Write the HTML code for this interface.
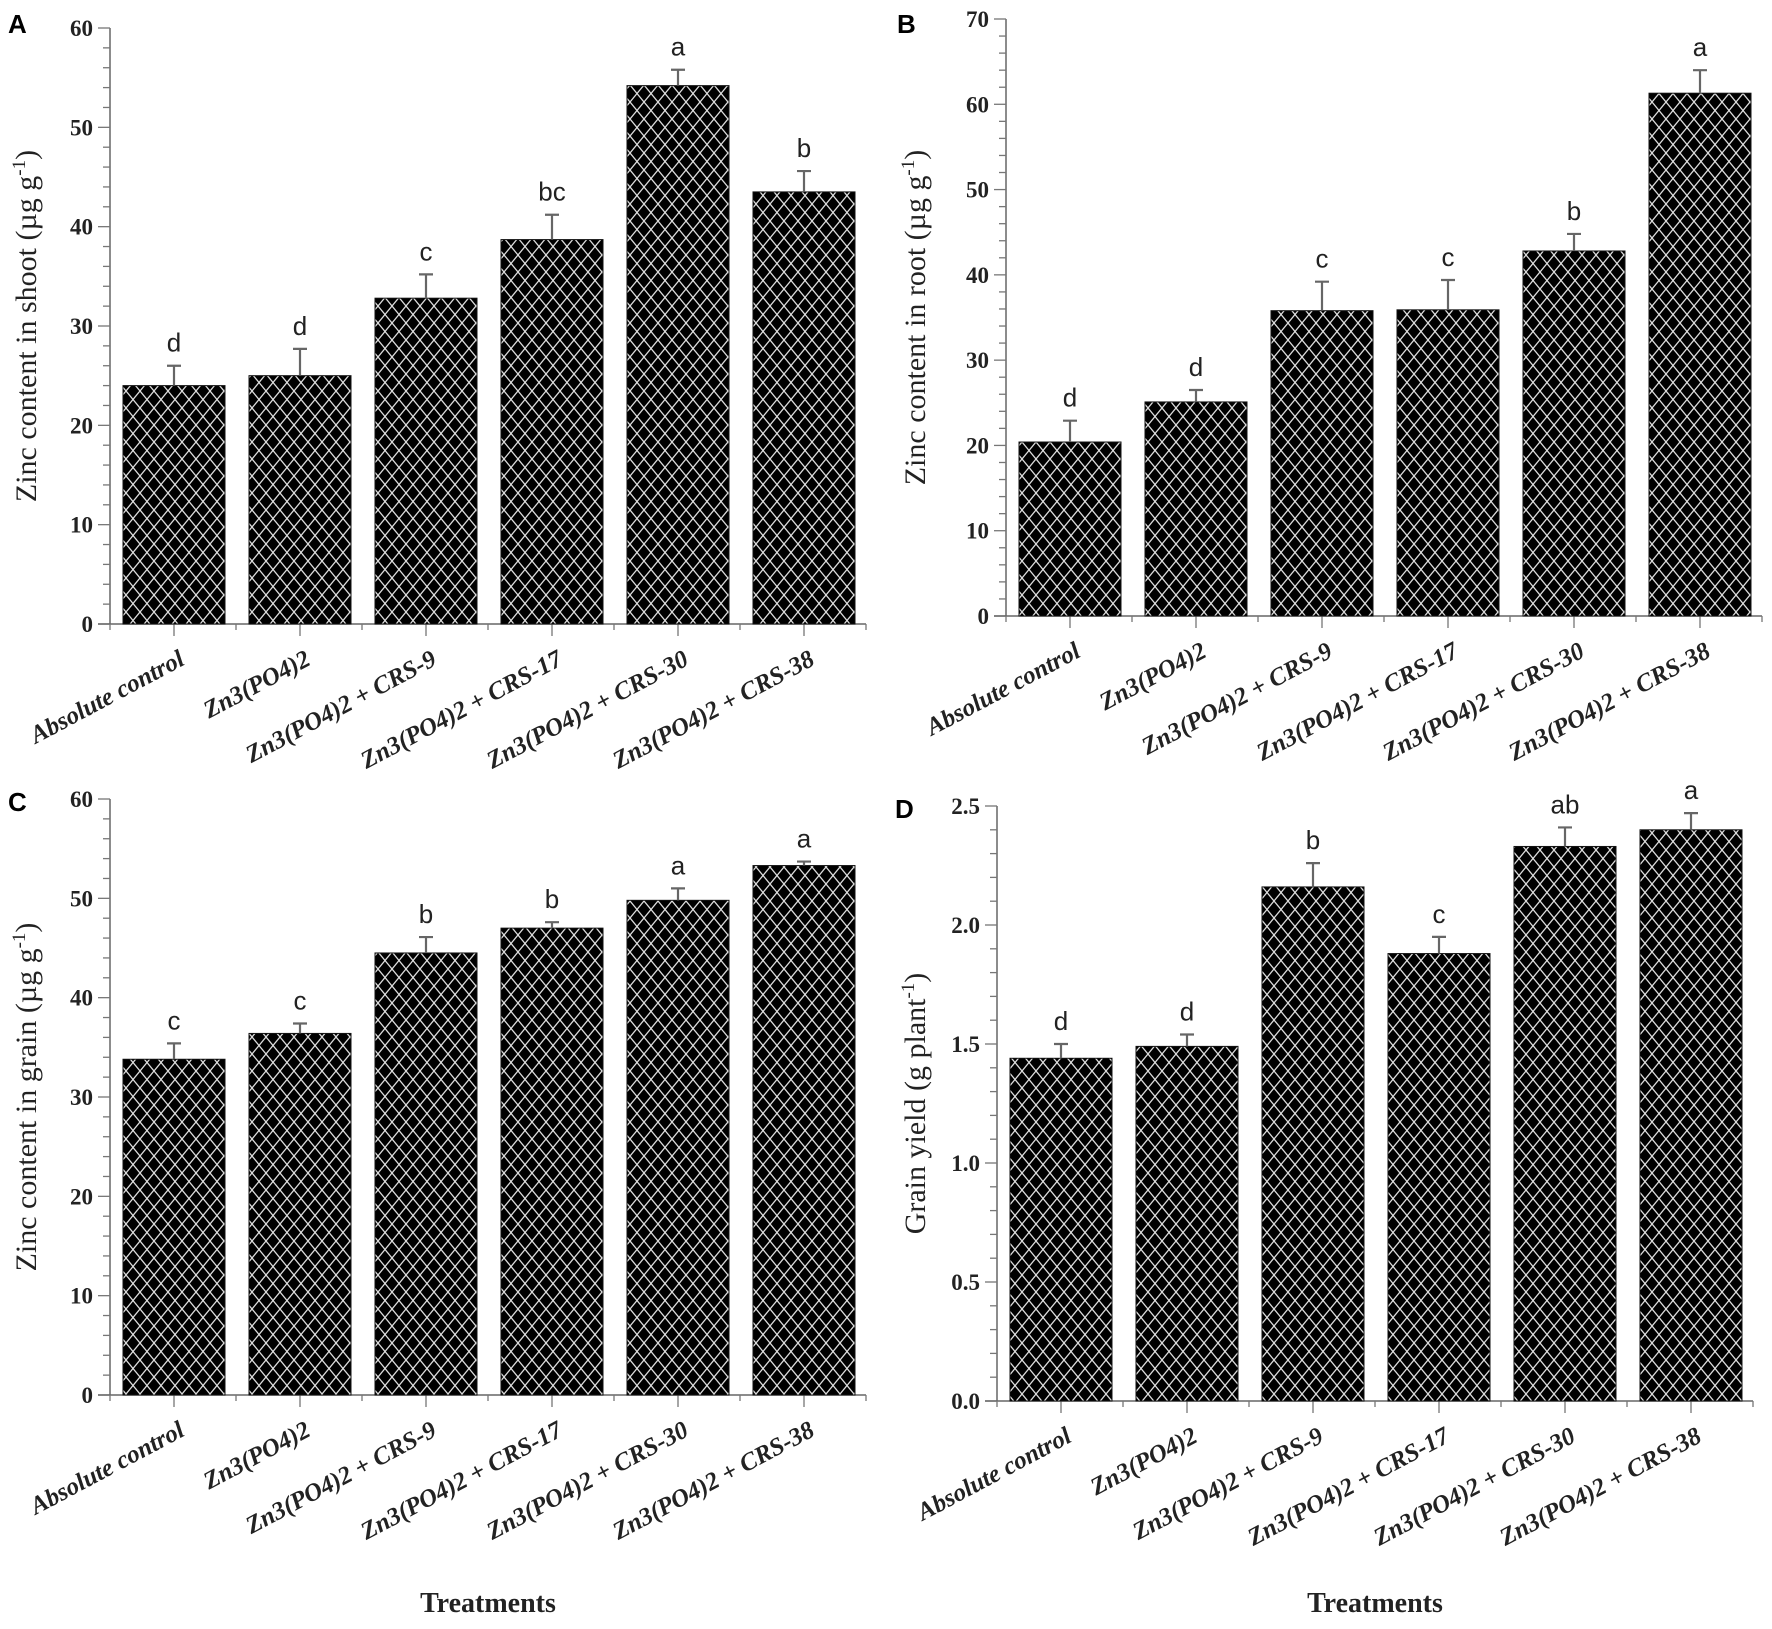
<!DOCTYPE html>
<html><head><meta charset="utf-8">
<style>
html,body{margin:0;padding:0;background:#fff;}
svg{display:block;}
.tick{font-family:"Liberation Serif",serif;font-weight:bold;font-size:23px;fill:#222;}
.cat{font-family:"Liberation Serif",serif;font-weight:bold;font-style:italic;font-size:25px;fill:#222;}
.ytitle{font-family:"Liberation Serif",serif;font-size:30px;fill:#222;}
.let{font-family:"Liberation Sans",sans-serif;font-size:26px;fill:#222;}
.panel{font-family:"Liberation Sans",sans-serif;font-weight:bold;font-size:26px;fill:#000;}
.xt{font-family:"Liberation Serif",serif;font-weight:bold;font-size:28px;fill:#222;}
</style></head>
<body>
<svg id="fig" width="1772" height="1629" viewBox="0 0 1772 1629" xmlns="http://www.w3.org/2000/svg">
<defs>
<pattern id="hatch" width="14" height="17" patternUnits="userSpaceOnUse">
<rect width="14" height="17" fill="#000"/>
<line x1="0" y1="0" x2="14" y2="17" stroke="#ddd" stroke-width="1.3"/>
<line x1="14" y1="0" x2="0" y2="17" stroke="#ddd" stroke-width="1.3"/>
</pattern>
</defs>
</svg>
<script>
const categories = ["Absolute control","Zn3(PO4)2","Zn3(PO4)2 + CRS-9","Zn3(PO4)2 + CRS-17","Zn3(PO4)2 + CRS-30","Zn3(PO4)2 + CRS-38"];
const shootValues = [24.0, 25.0, 32.8, 38.7, 54.2, 43.5];
const shootErrors = [2.0, 2.7, 2.4, 2.5, 1.6, 2.1];
const shootLetters = ["d","d","c","bc","a","b"];
const rootValues = [20.4, 25.1, 35.8, 35.9, 42.8, 61.3];
const rootErrors = [2.5, 1.4, 3.4, 3.5, 2.0, 2.7];
const rootLetters = ["d","d","c","c","b","a"];
const grainValues = [33.8, 36.4, 44.5, 47.0, 49.8, 53.3];
const grainErrors = [1.6, 1.0, 1.6, 0.6, 1.2, 0.4];
const grainLetters = ["c","c","b","b","a","a"];
const yieldValues = [1.44, 1.49, 2.16, 1.88, 2.33, 2.40];
const yieldErrors = [0.06, 0.05, 0.10, 0.07, 0.08, 0.07];
const yieldLetters = ["d","d","b","c","ab","a"];
const shootTicks = [0,10,20,30,40,50,60];
const rootTicks = [0,10,20,30,40,50,60,70];
const grainTicks = [0,10,20,30,40,50,60];
const yieldTicks = ["0.0","0.5","1.0","1.5","2.0","2.5"];

const NS = "http://www.w3.org/2000/svg";
const svg = document.getElementById('fig');
function mk(tag, attrs, parent){
  const e = document.createElementNS(NS, tag);
  for (const k in attrs) e.setAttribute(k, attrs[k]);
  (parent||svg).appendChild(e);
  return e;
}
function panel(cfg){
  const g = mk('g', {});
  
  
  const ticks = cfg.ticks.map(Number);
  const yMax = ticks[ticks.length-1];
  const y = v => cfg.y0 - (v / yMax) * (cfg.y0 - cfg.yTop);
  const step = 126;
  const xEnd = cfg.ax + step * categories.length;
  const cx = i => cfg.ax + 64 + i * step;
  const ya = mk('line', {x1:cfg.ax, y1:cfg.yTop, x2:cfg.ax, y2:cfg.y0, stroke:'#666', 'stroke-width':1.5}, g);
  
  
  const minor = cfg.minor;
  for (let v = 0; v <= yMax + 1e-9; v += minor) {
    const isMajor = ticks.some(t => Math.abs(t - v) < 1e-6);
    mk('line', {x1:cfg.ax - (isMajor?12:7), y1:y(v), x2:cfg.ax, y2:y(v), stroke:'#777', 'stroke-width':1.3}, g);
  }
  cfg.ticks.forEach(t => {
    const tx = mk('text', {x:cfg.ax - 17, y:y(Number(t)) + 8, 'text-anchor':'end', class:'tick'}, g);
    tx.textContent = t;
    
    
  });
  const xa = mk('line', {x1:cfg.ax - 12, y1:cfg.y0, x2:xEnd, y2:cfg.y0, stroke:'#666', 'stroke-width':1.5}, g);
  
  
  for (let i = 0; i <= categories.length; i++) {
    mk('line', {x1:cfg.ax + i*step, y1:cfg.y0, x2:cfg.ax + i*step, y2:cfg.y0 + 6, stroke:'#777', 'stroke-width':1.3}, g);
  }
  categories.forEach((c, i) => {
    mk('line', {x1:cx(i), y1:cfg.y0, x2:cx(i), y2:cfg.y0 + 12, stroke:'#777', 'stroke-width':1.3}, g);
    const bx = cx(i) - 51, by = y(cfg.values[i]);
    const bar = mk('rect', {x:bx, y:by, width:102, height:cfg.y0 - by, fill:'url(#hatch)', stroke:'#111', 'stroke-width':1}, g);
    
    
    const ey = y(cfg.values[i] + cfg.errors[i]);
    const eb = mk('path', {d:`M${cx(i)},${by} V${ey} M${cx(i)-7},${ey} H${cx(i)+7}`, stroke:'#666', 'stroke-width':2.2, fill:'none'}, g);
    
    
    const lt = mk('text', {x:cx(i), y:ey - 14, 'text-anchor':'middle', class:'let'}, g);
    lt.textContent = cfg.letters[i];
    
    
    const ct = mk('text', {x:0, y:0, 'text-anchor':'end', class:'cat', transform:`translate(${cx(i)+12},${cfg.y0+40}) rotate(-28)`}, g);
    ct.textContent = c;
    
    
  });
  const mid = (cfg.yTop + cfg.y0) / 2;
  const yt = mk('text', {x:0, y:0, 'text-anchor':'middle', class:'ytitle', transform:`translate(${cfg.titleX},${mid}) rotate(-90)`}, g);
  yt.innerHTML = cfg.title;
  
  
  const pl = mk('text', {x:cfg.lx, y:cfg.ly, class:'panel'}, g);
  pl.textContent = cfg.id;
  
  
  if (cfg.xtitle) {
    const xt = mk('text', {x:(cfg.ax + xEnd)/2, y:1612, 'text-anchor':'middle', class:'xt'}, g);
    xt.textContent = 'Treatments';
    
    
  }
}
const sup = '<tspan dy="-11" font-size="19">-1</tspan><tspan dy="11">)</tspan>';
panel({id:'A', ax:110, yTop:28, y0:624, ticks:shootTicks, minor:2, values:shootValues, errors:shootErrors, letters:shootLetters,
  title:'Zinc content in shoot (µg g' + sup, titleX:36, lx:8, ly:33});
panel({id:'B', ax:1006, yTop:19, y0:616, ticks:rootTicks, minor:2, values:rootValues, errors:rootErrors, letters:rootLetters,
  title:'Zinc content in root (µg g' + sup, titleX:925, lx:897, ly:33});
panel({id:'C', ax:110, yTop:799, y0:1395, ticks:grainTicks, minor:2, values:grainValues, errors:grainErrors, letters:grainLetters,
  title:'Zinc content in grain (µg g' + sup, titleX:36, lx:8, ly:811, xtitle:true});
panel({id:'D', ax:997, yTop:806, y0:1401, ticks:yieldTicks, minor:0.1, values:yieldValues, errors:yieldErrors, letters:yieldLetters,
  title:'Grain yield (g plant' + sup, titleX:925, lx:895, ly:818, xtitle:true});
</script>
</body></html>
